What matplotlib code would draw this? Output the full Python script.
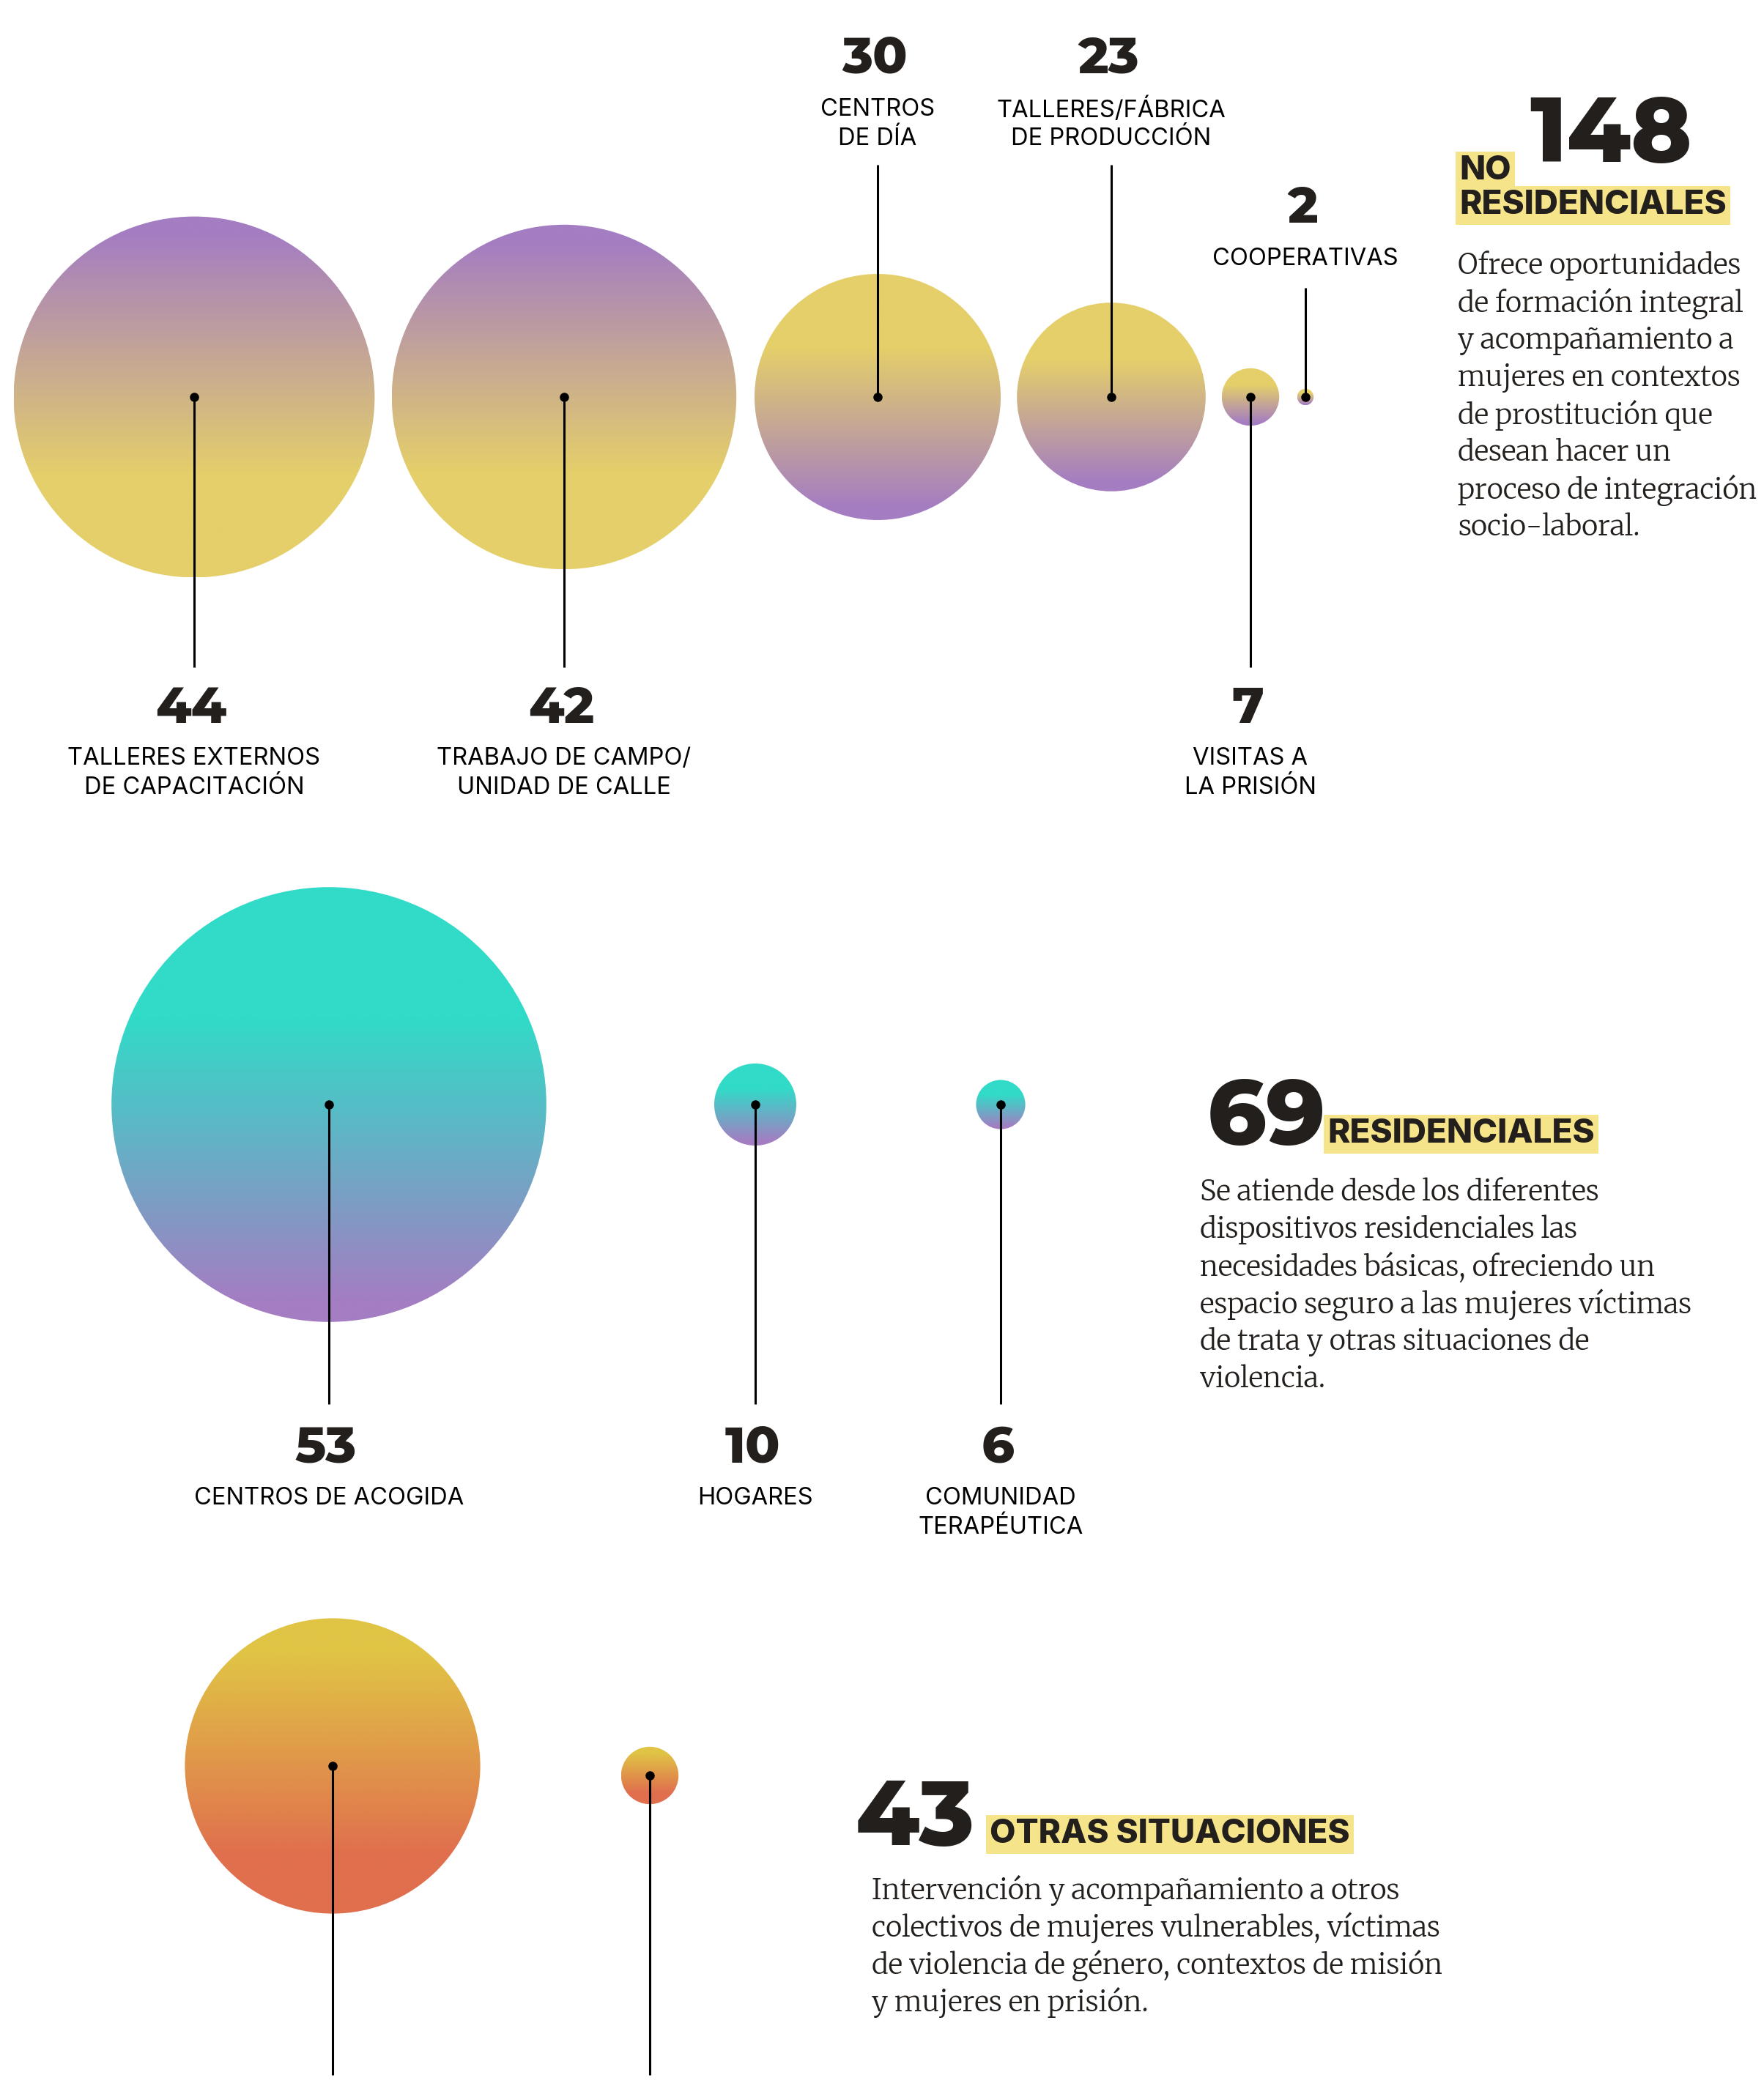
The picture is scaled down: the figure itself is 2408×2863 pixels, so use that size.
import numpy as np
import matplotlib
matplotlib.use("Agg")
import matplotlib.pyplot as plt
from matplotlib.patches import Circle
from matplotlib.colors import to_rgb

# ---- data ----
no_res_values = [44, 42, 30, 23, 7, 2]
no_res_labels = [
    ["TALLERES EXTERNOS", "DE CAPACITACIÓN"],
    ["TRABAJO DE CAMPO/", "UNIDAD DE CALLE"],
    ["CENTROS", "DE DÍA"],
    ["TALLERES/FÁBRICA", "DE PRODUCCIÓN"],
    ["VISITAS A", "LA PRISIÓN"],
    ["COOPERATIVAS"],
]
res_values = [53, 10, 6]
res_labels = [
    ["CENTROS DE ACOGIDA"],
    ["HOGARES"],
    ["COMUNIDAD", "TERAPÉUTICA"],
]
otras_values = [36, 7]

totals = [148, 69, 43]
titles = [["NO", "RESIDENCIALES"], ["RESIDENCIALES"], ["OTRAS SITUACIONES"]]
descriptions = [
    ["Ofrece oportunidades", "de formación integral", "y acompañamiento a",
     "mujeres en contextos", "de prostitución que", "desean hacer un",
     "proceso de integración", "socio-laboral."],
    ["Se atiende desde los diferentes", "dispositivos residenciales las",
     "necesidades básicas, ofreciendo un", "espacio seguro a las mujeres víctimas",
     "de trata y otras situaciones de", "violencia."],
    ["Intervención y acompañamiento a otros", "colectivos de mujeres vulnerables, víctimas",
     "de violencia de género, contextos de misión", "y mujeres en prisión."],
]

# ---- layout (pixels) ----
W, H = 2408, 2863
R_PER_UNIT = 5.6
no_res_x = [265, 770, 1198, 1517, 1707, 1782]
no_res_y = 542
no_res_side = ["below", "below", "above", "above", "below", "above"]
no_res_grad = ["pur_yel", "pur_yel", "yel_pur", "yel_pur", "yel_pur", "yel_pur"]
res_x = [449, 1031, 1366]
res_y = 1508
otras_x = [454, 887]
otras_y = [2411, 2424]

PURPLE = "#a47dc2"
YELLOW = "#e5cf6a"
TEAL = "#31dbc8"
YEL2 = "#e0c445"
ORANGE = "#e06f4e"
HILITE = "#f6e48b"
INK = "#231f1c"

NUM_FONT = ["Montserrat Alternates", "Lato", "DejaVu Sans"]
LAB_FONT = ["Inter", "DejaVu Sans"]
TXT_FONT = ["Merriweather", "DejaVu Serif"]

fig = plt.figure(figsize=(W / 100, H / 100), dpi=100)
ax = fig.add_axes([0, 0, 1, 1])
ax.set_xlim(0, W)
ax.set_ylim(H, 0)
ax.set_aspect("equal")
ax.axis("off")


def gradient(c_top, c_bot, t0, t1, n=512):
    t = np.linspace(0, 1, n)
    s = np.clip((t - t0) / (t1 - t0), 0, 1)[:, None]
    a, b = np.array(to_rgb(c_top)), np.array(to_rgb(c_bot))
    return (a * (1 - s) + b * s)[:, None, :]


GRADS = {
    "pur_yel": (PURPLE, YELLOW, 0.05, 0.72),
    "yel_pur": (YELLOW, PURPLE, 0.3, 0.95),
    "teal_pur": (TEAL, PURPLE, 0.3, 0.95),
    "yel_ora": (YEL2, ORANGE, 0.12, 0.8),
}


def bubble(cx, cy, value, grad):
    r = value * R_PER_UNIT
    circ = Circle((cx, cy), r, facecolor="none", edgecolor="none")
    ax.add_patch(circ)
    img = ax.imshow(gradient(*GRADS[grad]), extent=(cx - r, cx + r, cy + r, cy - r),
                    origin="upper", aspect="auto", interpolation="bilinear", zorder=1)
    img.set_clip_path(circ)
    ax.plot([cx], [cy], "o", color="black", ms=8, zorder=4)
    return r


def stem(cx, y0, y1):
    ax.plot([cx, cx], [y0, y1], color="black", lw=2.2, zorder=3, solid_capstyle="butt")


def label(cx, num_y, value, lines, line_y0):
    ax.text(cx - 4, num_y, str(value), ha="center", va="center", fontsize=50,
            fontweight=800, color=INK, family=NUM_FONT)
    for i, ln in enumerate(lines):
        ax.text(cx, line_y0 + i * 40, ln, ha="center", va="center", fontsize=23.5,
                color="black", family=LAB_FONT)


# no residenciales
for v, x, lab, side, g in zip(no_res_values, no_res_x, no_res_labels, no_res_side, no_res_grad):
    bubble(x, no_res_y, v, g)
    if side == "below":
        stem(x, no_res_y, 911)
        label(x, 968, v, lab, 1035)
    else:
        top = 393 if len(lab) == 1 else 225
        stem(x, top, no_res_y)
        if len(lab) == 1:
            label(x, 285, v, lab, 354)
        else:
            label(x, 80, v, lab, 150)

# residenciales
for v, x, lab in zip(res_values, res_x, res_labels):
    bubble(x, res_y, v, "teal_pur")
    stem(x, res_y, 1917)
    label(x, 1977, v, lab, 2046)

# otras situaciones
for v, x, y in zip(otras_values, otras_x, otras_y):
    bubble(x, y, v, "yel_ora")
    stem(x, y, 2833)


def desc(x, y0, lines):
    for i, ln in enumerate(lines):
        ax.text(x, y0 + i * 51, ln, ha="left", va="center", fontsize=27.5,
                color=INK, family=TXT_FONT)


def tag(x, y, text):
    ax.text(x, y, text, ha="left", va="baseline", fontsize=33, fontweight=800,
            color=INK, family=LAB_FONT,
            bbox=dict(boxstyle="square,pad=0.12", facecolor=HILITE, edgecolor="none"))


# block 1
ax.text(2088, 221, str(totals[0]), ha="left", va="baseline", fontsize=90,
        fontweight=800, color=INK, family=NUM_FONT)
tag(1992, 245, titles[0][0])
tag(1992, 292, titles[0][1])
desc(1990, 363, descriptions[0])

# block 2
ax.text(1648, 1562, str(totals[1]), ha="left", va="baseline", fontsize=90,
        fontweight=800, color=INK, family=NUM_FONT)
tag(1812, 1560, titles[1][0])
desc(1638, 1628, descriptions[1])

# block 3
ax.text(1168, 2519, str(totals[2]), ha="left", va="baseline", fontsize=90,
        fontweight=800, color=INK, family=NUM_FONT)
tag(1351, 2516, titles[2][0])
desc(1190, 2581, descriptions[2])

fig.savefig("out.png", dpi=100, facecolor="white")
